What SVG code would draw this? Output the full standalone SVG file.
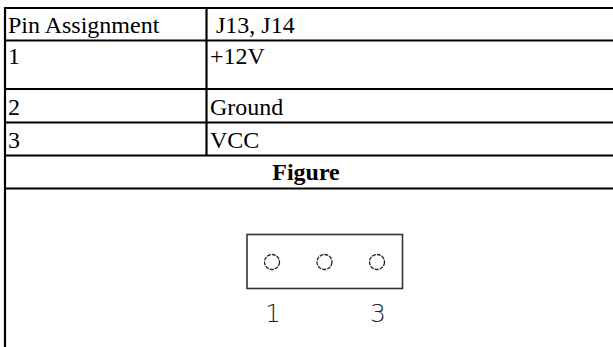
<svg xmlns="http://www.w3.org/2000/svg" width="613" height="347" viewBox="0 0 613 347">
<style>
.t{font-family:"Liberation Serif","Times New Roman",serif;font-size:24px;fill:#000}
.b{font-weight:bold}
.g{stroke:#000;stroke-width:2.2;fill:none}
.pin{fill:none;stroke:#222;stroke-width:1.3;stroke-dasharray:4 1}
.lbl{font-family:"DejaVu Sans","Liberation Sans",sans-serif;font-size:25px;fill:#222;font-weight:200}
</style>
<rect width="613" height="347" fill="#fff"/>
<g id="table">
<g id="grid" class="g">
<line x1="5" y1="8" x2="613" y2="8"/>
<line x1="5" y1="40.5" x2="613" y2="40.5"/>
<line x1="5" y1="89" x2="613" y2="89"/>
<line x1="5" y1="122.5" x2="613" y2="122.5"/>
<line x1="5" y1="155.5" x2="613" y2="155.5"/>
<line x1="5" y1="188.5" x2="613" y2="188.5"/>
<line x1="5" y1="7" x2="5" y2="347"/>
<line x1="206.5" y1="8" x2="206.5" y2="155.5"/>
</g>
<g id="header">
<text class="t" x="8" y="33">Pin Assignment</text>
<text class="t" x="216" y="33">J13, J14</text>
</g>
<g id="row1">
<text class="t" x="8" y="64">1</text>
<text class="t" x="210" y="64">+12V</text>
</g>
<g id="row2">
<text class="t" x="8" y="115">2</text>
<text class="t" x="210" y="115">Ground</text>
</g>
<g id="row3">
<text class="t" x="8" y="148">3</text>
<text class="t" x="210" y="148">VCC</text>
</g>
<g id="figure-title">
<text class="t b" x="306" y="180" text-anchor="middle">Figure</text>
</g>
</g>
<g id="connector">
<rect x="247" y="234.5" width="155.5" height="54" fill="none" stroke="#333" stroke-width="1.6"/>
<circle class="pin" cx="272" cy="262" r="7.5"/>
<circle class="pin" cx="324.5" cy="262" r="7.5"/>
<circle class="pin" cx="377" cy="262" r="7.5"/>
<text class="lbl" x="273" y="322" text-anchor="middle">1</text>
<text class="lbl" x="378" y="322" text-anchor="middle">3</text>
</g>
</svg>
